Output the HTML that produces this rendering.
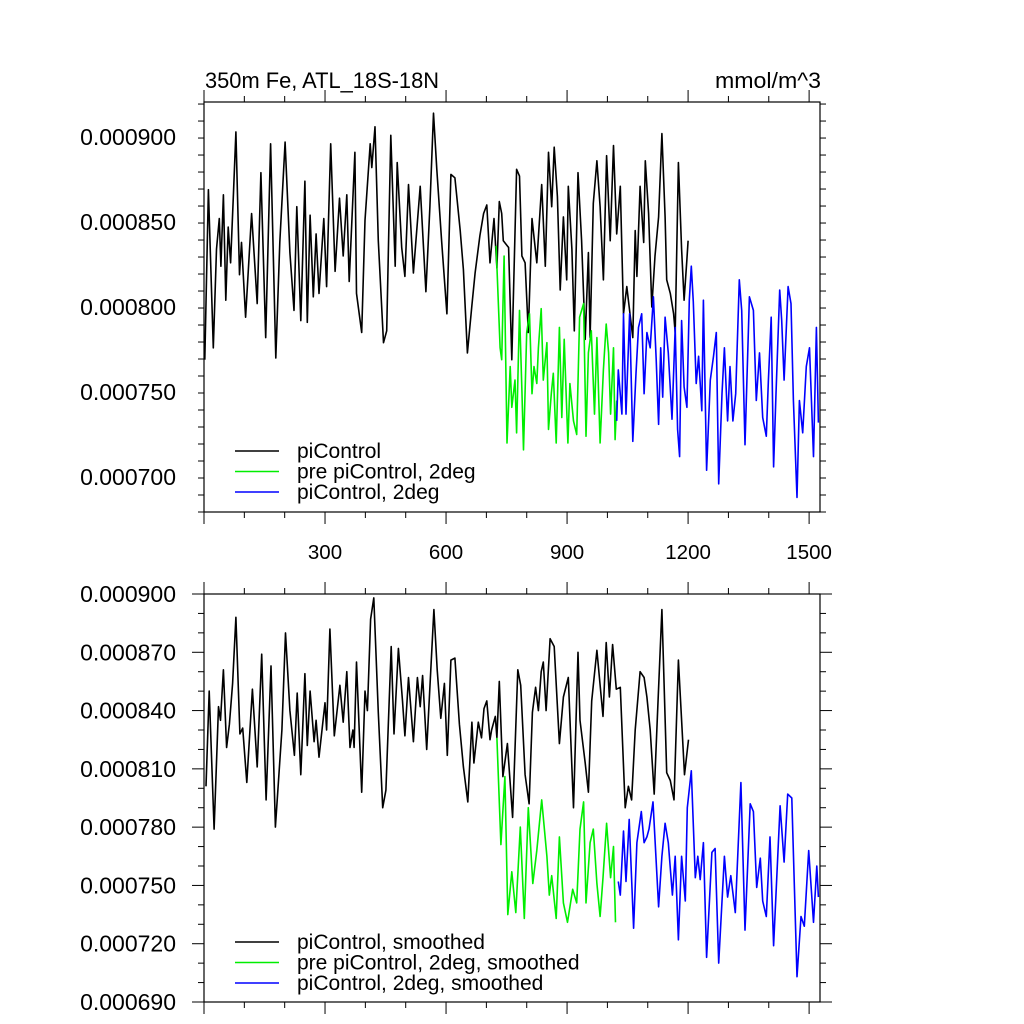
<!DOCTYPE html>
<html><head><meta charset="utf-8"><style>
html,body{margin:0;padding:0;background:#fff}
svg{display:block;font-family:"Liberation Sans",sans-serif}
</style></head><body>
<svg id="chart" width="1024" height="1024" viewBox="0 0 1024 1024">
<rect x="0" y="0" width="1024" height="1024" fill="#fff"/>
<text x="205" y="88" font-size="22" textLength="234" lengthAdjust="spacingAndGlyphs">350m Fe, ATL_18S-18N</text>
<text x="715" y="88" font-size="22" textLength="106" lengthAdjust="spacingAndGlyphs">mmol/m^3</text>
<g id="top"></g>
<g id="bot"></g>
</svg>
<script>
// values in units of 1e-6 mmol/m^3
const topBlackYears=[2,11,23,31,38,42,48,54,60,66,73,79,88,93,103,118,132,141,153,165,178,188,201,213,223,230,240,250,256,263,271,278,285,297,304,314,325,336,345,354,360,374,378,391,399,412,416,424,432,445,453,463,474,479,490,498,507,519,536,550,560,569,577,589,602,612,622,635,643,653,664,672,684,693,701,709,719,726,732,738,742,755,763,775,782,788,796,804,813,825,837,846,854,862,868,876,883,891,899,903,912,918,927,936,945,953,957,965,974,982,990,998,1007,1015,1023,1032,1040,1048,1056,1063,1069,1073,1081,1090,1094,1102,1110,1118,1127,1135,1143,1147,1156,1164,1168,1176,1184,1190,1197,1200];
const topBlackVals=[769,869,776,834,852,824,866,804,847,826,866,903,819,838,794,855,802,879,782,896,770,838,897,832,798,859,792,874,791,854,806,843,808,852,812,896,821,864,830,866,815,891,808,785,851,896,882,906,839,779,786,901,824,885,835,818,872,820,871,809,859,914,881,839,796,878,876,845,822,773,801,820,842,855,860,826,852,823,862,855,839,835,769,881,877,830,826,785,852,826,872,824,891,859,894,865,810,853,816,871,834,786,879,839,781,832,782,861,886,859,816,889,839,895,843,871,796,812,796,782,845,818,871,838,886,855,800,830,853,902,853,816,808,796,785,885,834,804,828,839];
const topGreenYears=[724,734,738,744,751,759,763,771,775,782,788,792,800,807,813,818,825,829,836,841,850,854,861,866,873,881,887,893,902,907,916,924,931,941,947,953,960,968,974,982,990,997,1003,1008,1015,1019,1023];
const topGreenVals=[836,776,769,830,720,765,741,757,726,798,751,716,785,796,749,765,755,776,799,757,779,728,749,761,720,788,735,781,720,755,733,725,794,802,724,773,786,737,782,720,763,790,773,737,776,722,745];
const topBlueYears=[1023,1027,1036,1040,1046,1055,1063,1071,1077,1085,1091,1098,1106,1114,1121,1127,1132,1137,1143,1151,1160,1168,1174,1179,1184,1190,1197,1203,1208,1213,1220,1226,1234,1238,1246,1255,1263,1270,1276,1284,1290,1298,1304,1311,1318,1327,1333,1341,1352,1362,1369,1377,1385,1394,1399,1406,1412,1418,1427,1432,1438,1448,1455,1461,1470,1476,1484,1493,1501,1511,1518,1523];
const topBlueVals=[733,763,737,796,737,796,721,761,788,796,749,785,776,806,769,731,776,747,794,773,734,788,728,712,792,753,741,804,824,803,755,771,739,804,704,757,771,785,696,749,776,733,765,733,749,816,798,719,806,798,745,773,735,724,757,794,706,749,810,792,757,812,802,745,688,745,726,765,776,712,788,732];

const botBlackYears=[5,13,25,36,41,48,56,63,71,79,89,96,106,120,132,143,154,166,177,193,202,213,224,231,240,250,256,263,273,278,285,300,304,312,323,337,345,354,362,369,372,378,391,399,405,413,421,432,443,451,464,471,482,492,498,507,519,529,536,542,552,570,578,587,596,603,612,622,633,643,654,664,669,680,688,694,701,709,713,722,726,732,741,752,765,778,785,796,806,814,822,829,836,841,848,858,868,881,891,903,916,927,932,945,953,961,974,989,997,1005,1013,1022,1032,1044,1052,1060,1069,1081,1091,1098,1106,1116,1124,1135,1147,1156,1165,1176,1191,1201];
const botBlackVals=[801,850,779,842,835,861,821,833,854,888,828,831,803,851,811,869,794,863,780,830,880,840,817,849,807,859,822,850,824,835,816,844,830,882,827,853,834,860,821,830,821,865,798,850,840,887,898,839,790,799,873,828,872,845,827,857,824,857,842,858,820,892,861,836,854,817,866,867,833,811,793,834,813,834,826,841,845,825,830,837,826,855,806,823,785,861,853,807,792,839,852,840,860,865,840,877,873,823,847,857,790,870,835,813,798,845,871,837,875,847,874,851,852,790,801,794,830,860,857,847,830,797,837,892,808,804,794,866,807,825];
const botGreenYears=[726,736,746,753,763,773,784,794,804,815,825,837,850,856,862,873,881,891,901,914,924,932,941,947,957,965,974,982,989,998,1008,1015,1020];
const botGreenVals=[826,771,806,735,757,736,780,733,790,751,768,794,765,745,755,733,775,741,731,748,741,779,793,741,772,779,751,734,754,782,754,770,731];
const botBlueYears=[1027,1032,1040,1046,1054,1065,1073,1084,1091,1098,1103,1113,1127,1135,1143,1151,1161,1168,1176,1184,1193,1198,1208,1218,1224,1230,1238,1246,1259,1267,1276,1290,1298,1306,1317,1331,1341,1354,1362,1370,1379,1385,1394,1403,1412,1428,1438,1447,1457,1470,1480,1488,1499,1511,1519,1523];
const botBlueVals=[752,745,778,752,784,728,772,788,772,775,779,793,739,765,782,772,745,765,722,765,742,790,809,754,765,753,772,713,767,769,710,765,744,755,736,803,727,792,788,749,764,742,734,775,719,791,762,797,795,703,734,729,768,731,760,744];

const xTickLabels=["300","600","900","1200","1500"];
const xMajor=[0,300,600,900,1200,1500];
const topYTicks=[700,750,800,850,900];
const topYTickLabels=["0.000700","0.000750","0.000800","0.000850","0.000900"];
const botYTicks=[690,720,750,780,810,840,870,900];
const botYTickLabels=["0.000690","0.000720","0.000750","0.000780","0.000810","0.000840","0.000870","0.000900"];

const NS="http://www.w3.org/2000/svg";
function mk(p,tag,at){const e=document.createElementNS(NS,tag);for(const k in at)e.setAttribute(k,at[k]);p.appendChild(e);return e;}
const X0=204,X1=820,xDomain=[0,1527];
function xs(v){return X0+(v-xDomain[0])/(xDomain[1]-xDomain[0])*(X1-X0);}

function panel(g,Y0,Y1,dmin,dmax,yt,ytl,minorStep,showX,series,legend,legY){
  const ys=v=>Y1-(v-dmin)/(dmax-dmin)*(Y1-Y0);
  const frame=mk(g,'rect',{x:X0,y:Y0,width:X1-X0,height:Y1-Y0,fill:'none',stroke:'#000','stroke-width':1.2});
  
  
  for(let v=0;v<=1500;v+=100){
    const maj=v%300===0, x=xs(v), L=maj?12:6;
    const t1=mk(g,'line',{x1:x,y1:Y1,x2:x,y2:Y1+L,stroke:'#000','stroke-width':1});
    
    
    const t2=mk(g,'line',{x1:x,y1:Y0,x2:x,y2:Y0-L,stroke:'#000','stroke-width':1});
    
    
  }
  if(showX){
    xTickLabels.forEach((s,i)=>{
      const t=mk(g,'text',{x:xs(xMajor[i+1]),y:Y1+47,'font-size':20.5,'text-anchor':'middle'});
      t.textContent=s;
      
      
    });
  }
  for(let v=dmin;v<=dmax+0.01;v+=minorStep){
    const maj=yt.includes(Math.round(v)), y=ys(v), L=maj?12:6;
    const a=mk(g,'line',{x1:X0,y1:y,x2:X0-L,y2:y,stroke:'#000','stroke-width':1});
    
    
    const b=mk(g,'line',{x1:X1,y1:y,x2:X1+L,y2:y,stroke:'#000','stroke-width':1});
    
    
  }
  yt.forEach((v,i)=>{
    const t=mk(g,'text',{x:176,y:ys(v)+8,'font-size':23,'text-anchor':'end'});
    t.textContent=ytl[i];
    
    
  });
  series.forEach(s=>{
    const d=s.xv.map((x,i)=>(i?'L':'M')+xs(x).toFixed(1)+','+ys(s.yv[i]).toFixed(1)).join('');
    const p=mk(g,'path',{d:d,fill:'none',stroke:s.c,'stroke-width':1.6,'stroke-linejoin':'round'});
    
    
  });
  legend.forEach((s,i)=>{
    const y=legY+i*20.5;
    const l=mk(g,'line',{x1:235,y1:y,x2:279,y2:y,stroke:s.c,'stroke-width':1.5});
    
    
    const t=mk(g,'text',{x:297,y:y+7,'font-size':21});
    t.textContent=s.t;
    
    
  });
}
panel(document.getElementById('top'),102,512,679.4,920.6,topYTicks,topYTickLabels,10,true,
 [{xv:topBlackYears,yv:topBlackVals,c:'#000',n:'line-picontrol'},
  {xv:topGreenYears,yv:topGreenVals,c:'#00ee00',n:'line-pre-picontrol-2deg'},
  {xv:topBlueYears,yv:topBlueVals,c:'#0000ff',n:'line-picontrol-2deg'}],
 [{c:'#000',t:'piControl'},{c:'#00ee00',t:'pre piControl, 2deg'},{c:'#0000ff',t:'piControl, 2deg'}],451);
panel(document.getElementById('bot'),594,1002,690,900,botYTicks,botYTickLabels,10,false,
 [{xv:botBlackYears,yv:botBlackVals,c:'#000',n:'line-picontrol-smoothed'},
  {xv:botGreenYears,yv:botGreenVals,c:'#00ee00',n:'line-pre-picontrol-2deg-smoothed'},
  {xv:botBlueYears,yv:botBlueVals,c:'#0000ff',n:'line-picontrol-2deg-smoothed'}],
 [{c:'#000',t:'piControl, smoothed'},{c:'#00ee00',t:'pre piControl, 2deg, smoothed'},{c:'#0000ff',t:'piControl, 2deg, smoothed'}],942);
</script>
</body></html>
